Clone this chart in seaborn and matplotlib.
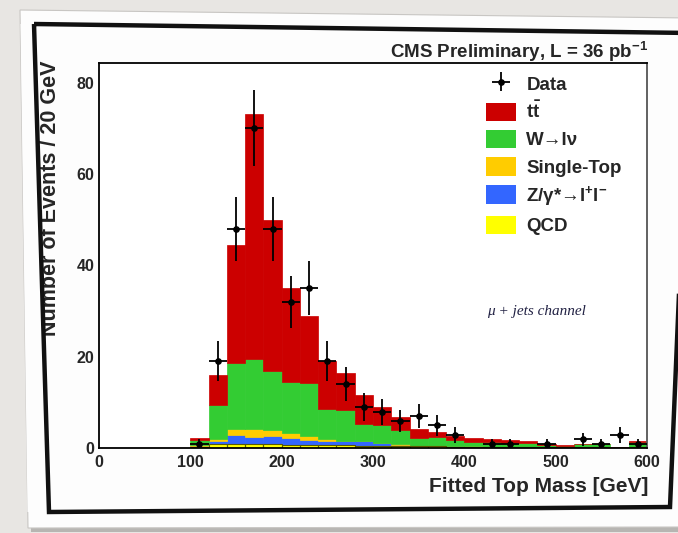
import numpy as np
import pandas as pd
import matplotlib
matplotlib.use("Agg")
import matplotlib.pyplot as plt
import seaborn as sns
from matplotlib.patches import Polygon, Patch
from matplotlib.ticker import MultipleLocator

# ---- binning: 20 GeV bins from 0 to 600 GeV ----
bin_edges = [0, 20, 40, 60, 80, 100, 120, 140, 160, 180, 200, 220, 240, 260, 280,
             300, 320, 340, 360, 380, 400, 420, 440, 460, 480, 500, 520, 540, 560,
             580, 600]
bin_centers = [10, 30, 50, 70, 90, 110, 130, 150, 170, 190, 210, 230, 250, 270, 290,
               310, 330, 350, 370, 390, 410, 430, 450, 470, 490, 510, 530, 550, 570,
               590]

# ---- expected events per bin for each process ----
ttbar = [0, 0, 0, 0, 0, 0.4, 6.5, 25.8, 53.6, 33.0, 20.4, 14.8, 10.6, 8.0, 6.4,
         4.0, 2.8, 2.0, 1.2, 0.9, 0.75, 0.7, 0.6, 0.5, 0.25, 0.3, 0.05, 0.1, 0.05, 0.4]
wjets = [0, 0, 0, 0, 0, 1.1, 7.5, 14.4, 15.3, 13.0, 11.3, 11.5, 6.5, 6.7, 3.7,
         3.9, 3.1, 1.6, 1.8, 1.35, 1.05, 1.0, 1.0, 1.0, 0.5, 0.2, 0.7, 0.7, 0.2, 1.1]
single_top = [0, 0, 0, 0, 0, 0.2, 0.4, 1.5, 1.8, 1.4, 1.1, 0.9, 0.4, 0.2, 0.1,
              0.1, 0.1, 0.1, 0.1, 0.05, 0.05, 0, 0, 0, 0, 0, 0, 0, 0, 0]
zjets = [0, 0, 0, 0, 0, 0.2, 0.7, 1.9, 1.5, 1.7, 1.4, 1.0, 0.9, 0.8, 0.9,
         0.5, 0.3, 0.1, 0.1, 0.1, 0.05, 0, 0, 0, 0, 0, 0, 0, 0, 0]
qcd = [0, 0, 0, 0, 0, 0.3, 0.9, 0.9, 0.9, 0.9, 0.8, 0.8, 0.7, 0.7, 0.6,
       0.6, 0.5, 0.4, 0.4, 0.3, 0.3, 0.3, 0.2, 0.2, 0.2, 0.2, 0.2, 0.2, 0.1, 0.2]

# ---- observed events per bin ----
data = [0, 0, 0, 0, 0, 1, 19, 48, 70, 48, 32, 35, 19, 14, 9,
        8, 6, 7, 5, 3, 0, 1, 1, 0, 1, 0, 2, 1, 3, 1]

# stacking order: first entry ends up on top of the stack
process_names = ["ttbar", "wjets", "single_top", "zjets", "qcd"]
process_values = [ttbar, wjets, single_top, zjets, qcd]
process_labels = [r"t$\bar{t}$", "W→lν", "Single-Top", r"Z/γ*→l$^{+}$l$^{-}$", "QCD"]
process_colors = ["#cc0000", "#33cc33", "#ffcc00", "#3366ff", "#ffff00"]

rows = []
for name, vals in zip(process_names, process_values):
    for c, v in zip(bin_centers, vals):
        rows.append({"mass": c, "events": v, "process": name})
df = pd.DataFrame(rows)

sns.set_style("white")
plt.rcParams["font.family"] = ["Liberation Sans", "DejaVu Sans"]
plt.rcParams["font.weight"] = "bold"
plt.rcParams["mathtext.fontset"] = "custom"
plt.rcParams["mathtext.rm"] = "Liberation Sans:bold"
plt.rcParams["mathtext.bf"] = "Liberation Sans:bold"
plt.rcParams["mathtext.it"] = "Liberation Sans:bold:italic"
plt.rcParams["mathtext.default"] = "bf"

W, H = 678, 533
fig = plt.figure(figsize=(W / 100, H / 100), dpi=100)
fig.patch.set_facecolor("#e8e6e3")


def fpt(x, y):
    """pixel position (from top-left) -> figure fraction"""
    return (x / W, 1 - y / H)


PAPER = "#fdfdfd"
# paper sheet with a soft drop shadow and a black inner frame
shadow = Polygon([fpt(23, 14), fpt(692, 22), fpt(684, 532), fpt(31, 532)],
                 closed=True, transform=fig.transFigure, facecolor="#8f8d8a",
                 edgecolor="none", alpha=0.55, zorder=-3)
paper = Polygon([fpt(20, 10), fpt(690, 18), fpt(681, 527), fpt(28, 528)],
                closed=True, transform=fig.transFigure, facecolor=PAPER,
                edgecolor="#c8c6c3", linewidth=0.8, zorder=-2)
# margin strip left of the frame: hides whatever runs past the frame line
margin = Polygon([fpt(20.5, 24), fpt(34, 24), fpt(49, 512), fpt(27.5, 512)],
                 closed=True, transform=fig.transFigure, facecolor=PAPER,
                 edgecolor="none", zorder=9)
frame = Polygon([fpt(34, 24), fpt(690, 33), fpt(670, 507), fpt(49, 512)],
                closed=True, transform=fig.transFigure, facecolor="none",
                edgecolor="#111111", linewidth=3.2, zorder=10)
fig.patches.extend([shadow, paper, margin, frame])

ax = fig.add_axes([99 / W, (H - 448.3) / H, 548 / W, 385 / H])
ax.set_facecolor("white")

sns.histplot(data=df, x="mass", weights="events", hue="process",
             hue_order=process_names, palette=process_colors,
             multiple="stack", bins=bin_edges, element="bars",
             linewidth=0, alpha=1, legend=False, ax=ax)
for p in ax.patches:
    p.set_edgecolor(p.get_facecolor())
    p.set_linewidth(0.5)

# thin dark outline around the QCD bins
sns.histplot(x=bin_centers, weights=qcd, bins=bin_edges, element="bars",
             fill=False, color="#5a5a00", linewidth=0.8, ax=ax)

# observed data with Poisson errors
data_arr = np.array(data, dtype=float)
centers_arr = np.array(bin_centers, dtype=float)
mask = data_arr > 0
data_handle = ax.errorbar(centers_arr[mask], data_arr[mask], xerr=10,
                          yerr=np.sqrt(data_arr[mask]), fmt="o", color="black",
                          ms=3.8, elinewidth=1.3, capsize=0, zorder=5)

ax.set_xlim(0, 600)
ax.set_ylim(0, 84.2)
ax.set_xlabel("")
ax.set_ylabel("")
ax.xaxis.set_major_locator(MultipleLocator(100))
ax.xaxis.set_minor_locator(MultipleLocator(20))
ax.yaxis.set_major_locator(MultipleLocator(20))
ax.yaxis.set_minor_locator(MultipleLocator(5))
ax.tick_params(axis="both", which="both", direction="in", top=False, right=False,
               color="black", labelsize=11.5)
ax.tick_params(axis="y", which="major", length=12.5, width=1.1, pad=3.5)
ax.tick_params(axis="y", which="minor", length=6.2, width=1.1)
ax.tick_params(axis="x", which="major", length=8.3, width=1.1, pad=5)
ax.tick_params(axis="x", which="minor", length=4.2, width=1.1)
for lab in ax.get_xticklabels() + ax.get_yticklabels():
    lab.set_fontweight("bold")
for s in ax.spines.values():
    s.set_linewidth(1.3)
    s.set_color("black")
ax.spines["right"].set_color("#555555")

# legend
handles = [data_handle] + [Patch(facecolor=c, edgecolor="none") for c in process_colors]
labels = ["Data"] + process_labels
ax.legend(handles, labels, loc="upper left", bbox_to_anchor=fpt(486, 74),
          bbox_transform=fig.transFigure, frameon=False,
          prop={"size": 13.5, "weight": "bold"}, handlelength=1.6,
          handleheight=1.15, labelspacing=0.4, handletextpad=0.55,
          borderpad=0, borderaxespad=0)

# texts around the frame
fig.text(*fpt(648, 52), r"CMS Preliminary, L = 36 pb$^{-1}$", ha="right",
         va="center", fontsize=13.5, fontweight="bold")
fig.text(*fpt(648, 487), "Fitted Top Mass [GeV]", ha="right", va="center",
         fontsize=15, fontweight="bold")
fig.text(*fpt(61, 60), "Number of Events / 20 GeV", ha="right", va="top",
         rotation=90, fontsize=15.5, fontweight="bold", zorder=5)
fig.text(*fpt(487, 312), "μ + jets channel", ha="left", va="center",
         fontsize=11, family=["Liberation Serif", "DejaVu Serif"], style="italic",
         fontweight="normal", color="#222244")

fig.savefig("out.png", dpi=100)
